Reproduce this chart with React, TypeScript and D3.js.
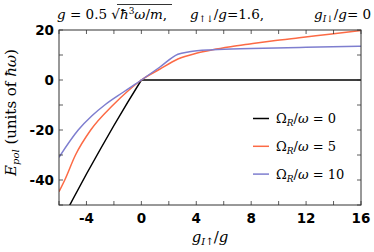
import React from "react";
import * as d3 from "d3";

const xTicksMajor = [-4, 0, 4, 8, 12, 16];
const yTicksMajor = [-40, -20, 0, 20];
const xTicksMinor = d3.range(-6, 16.01, 2);
const yTicksMinor = d3.range(-50, 20.01, 10);

const blackX = [-5.6, -5, -4, -3, -2, -1, 0, 16];
const blackY = [-54.0, -47.8, -37.6, -27.8, -18.2, -8.95, 0, 0];

const orangeX = [-6, -5.58, -4.8, -3.69, -2.06, -1, 0, 1.33, 2.66, 4, 5.2, 6.5, 7.9, 9.5, 11.5, 13.7, 16];
const orangeY = [-44.7, -40, -30, -20, -10, -4.5, 0, 4.3, 8.4, 10.7, 12.1, 13.3, 14.4, 15.6, 16.9, 18.3, 19.8];

const purpleX = [-6, -4.6, -3.6, -2.67, -1.3, 0, 1.33, 2.66, 3.5, 5.2, 8, 12, 16];
const purpleY = [-30.9, -20, -14.3, -10, -4.8, 0, 5.1, 10.3, 11.3, 12.1, 12.6, 13.1, 13.5];

const legendLabels = ["0", "5", "10"];
const colors = ["#000000", "#fc6a45", "#7e7ecf"];

const W = 374, H = 252;
const L = 59, R = 361, T = 30, B = 205;

export default function App() {
  const x = d3.scaleLinear().domain([-6, 16]).range([L, R]);
  const y = d3.scaleLinear().domain([-50, 20]).range([B, T]);
  const smooth = d3.line<[number, number]>().x(d => x(d[0])).y(d => y(d[1])).curve(d3.curveMonotoneX);
  const straight = d3.line<[number, number]>().x(d => x(d[0])).y(d => y(d[1]));
  const series = [
    d3.zip(blackX, blackY) as [number, number][],
    d3.zip(orangeX, orangeY) as [number, number][],
    d3.zip(purpleX, purpleY) as [number, number][],
  ];
  const tickFont = { fontFamily: "DejaVu Sans", fontWeight: 700, fontSize: 13.5 } as const;
  const serif = "DejaVu Serif";
  const tl = 4;
  return (
    <svg width={W} height={H} style={{ position: "absolute", left: 0, top: 0, background: "#fff" }}>
      <defs>
        <clipPath id="clip"><rect x={L} y={T} width={R - L} height={B - T} /></clipPath>
      </defs>
      {/* title */}
      <g fontFamily={serif} fontSize={13.5} fill="#000">
        <text x={57} y={19}>
          <tspan fontStyle="italic">g</tspan>
          <tspan> = 0.5 √</tspan>
          <tspan fontStyle="italic">ħ</tspan>
          <tspan fontSize={9} dy={-5}>3</tspan>
          <tspan dy={5} fontStyle="italic">ω</tspan>
          <tspan>/</tspan>
          <tspan fontStyle="italic">m</tspan>
          <tspan>,</tspan>
        </text>
        <line x1={117} x2={172} y1={4.5} y2={4.5} stroke="#000" strokeWidth={0.8} />
        <text x={190} y={19}>
          <tspan fontStyle="italic">g</tspan>
          <tspan fontSize={9} dy={3}>↑↓</tspan>
          <tspan dy={-3}>/</tspan>
          <tspan fontStyle="italic">g</tspan>
          <tspan>=1.6,</tspan>
        </text>
        <text x={314} y={19}>
          <tspan fontStyle="italic">g</tspan>
          <tspan fontSize={9} dy={3} fontStyle="italic">I</tspan>
          <tspan fontSize={9}>↓</tspan>
          <tspan dy={-3}>/</tspan>
          <tspan fontStyle="italic">g</tspan>
          <tspan>= 0</tspan>
        </text>
      </g>

      {/* lines */}
      <g clipPath="url(#clip)" fill="none">
        {series.map((s, i) => (
          <path key={i} d={(i === 0 ? straight(s) : smooth(s)) || ""} stroke={colors[i]} strokeWidth={1.5} />
        ))}
      </g>

      {/* frame */}
      <rect x={L} y={T} width={R - L} height={B - T} fill="none" stroke="#333" strokeWidth={1} />

      {/* ticks */}
      <g stroke="#333" strokeWidth={0.8}>
        {xTicksMinor.map(t => (
          <g key={"x" + t}>
            <line x1={x(t)} x2={x(t)} y1={B} y2={B - tl} />
            <line x1={x(t)} x2={x(t)} y1={T} y2={T + tl} />
          </g>
        ))}
        {yTicksMinor.map(t => (
          <g key={"y" + t}>
            <line x1={L} x2={L + tl} y1={y(t)} y2={y(t)} />
            <line x1={R} x2={R - tl} y1={y(t)} y2={y(t)} />
          </g>
        ))}
      </g>

      {/* tick labels */}
      <g {...tickFont} fill="#000">
        {xTicksMajor.map(t => (
          <text key={"xl" + t} x={x(t)} y={223} textAnchor="middle">{t < 0 ? "-" + Math.abs(t) : t}</text>
        ))}
        {yTicksMajor.map(t => (
          <text key={"yl" + t} x={54} y={y(t)} dy="0.36em" textAnchor="end">{t < 0 ? "-" + Math.abs(t) : t}</text>
        ))}
      </g>

      {/* x label */}
      <text x={(L + R) / 2} y={242} textAnchor="middle" fontFamily={serif} fontSize={15}>
        <tspan fontStyle="italic">g</tspan>
        <tspan fontSize={10} dy={3} fontStyle="italic">I</tspan>
        <tspan fontSize={10}>↑</tspan>
        <tspan dy={-3}>/</tspan>
        <tspan fontStyle="italic">g</tspan>
      </text>

      {/* y label */}
      <text transform={`translate(16,${(T + B) / 2 - 5}) rotate(-90)`} textAnchor="middle" fontFamily={serif} fontSize={15}>
        <tspan fontStyle="italic">E</tspan>
        <tspan fontSize={10} dy={3} fontStyle="italic">pol</tspan>
        <tspan dy={-3}> (units of </tspan>
        <tspan fontStyle="italic">ħω</tspan>
        <tspan>)</tspan>
      </text>

      {/* legend */}
      <g fontFamily={serif} fontSize={13}>
        {legendLabels.map((lab, i) => {
          const ly = 118.5 + i * 27.8;
          return (
            <g key={lab}>
              <line x1={253} x2={269} y1={ly} y2={ly} stroke={colors[i]} strokeWidth={1.5} />
              <text x={276} y={ly} dy="0.35em">
                <tspan>Ω</tspan>
                <tspan fontSize={9} dy={3} fontStyle="italic">R</tspan>
                <tspan dy={-3}>/</tspan>
                <tspan fontStyle="italic">ω</tspan>
                <tspan> = {lab}</tspan>
              </text>
            </g>
          );
        })}
      </g>
    </svg>
  );
}
